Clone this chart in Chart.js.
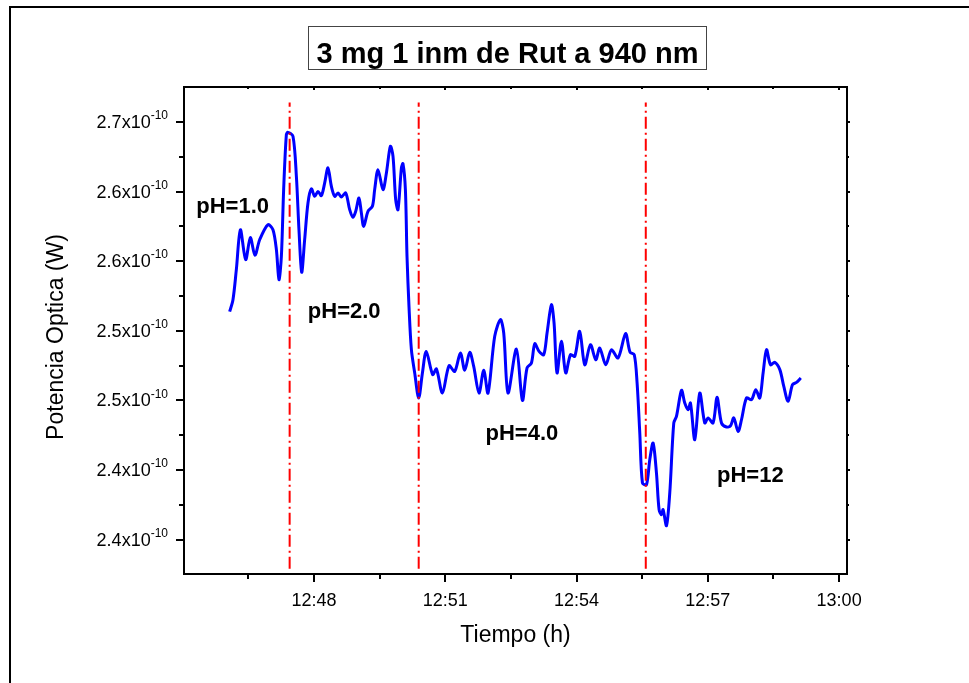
<!DOCTYPE html>
<html>
<head>
<meta charset="utf-8">
<script src="https://cdn.jsdelivr.net/npm/chart.js@4"></script>
<style>
  html, body { margin: 0; padding: 0; background: #fff; }
  canvas { display: block; }
</style>
</head>
<body>
<canvas id="chart" width="969" height="683"></canvas>
<script>
const titleText = '3 mg 1 inm de Rut a 940 nm';
const xAxisTitle = 'Tiempo (h)';
const yAxisTitle = 'Potencia Optica (W)';

// time in minutes after 12:00, optical power in units of 1e-10 W
const timeMin = [
  46.073, 46.149, 46.226, 46.318, 46.439, 46.546, 46.651, 46.759, 46.949, 47.063,
  47.141, 47.200, 47.255, 47.307, 47.369, 47.406, 47.520, 47.598, 47.657, 47.719,
  47.787, 47.863, 47.941, 48.016, 48.091, 48.169, 48.245, 48.320, 48.398, 48.473,
  48.549, 48.626, 48.725, 48.816, 48.891, 48.953, 49.029, 49.083, 49.136, 49.234,
  49.335, 49.387, 49.463, 49.577, 49.655, 49.746, 49.806, 49.867, 49.920, 49.998,
  50.034, 50.089, 50.126, 50.171, 50.226, 50.302, 50.393, 50.478, 50.565, 50.713,
  50.798, 50.935, 51.086, 51.216, 51.346, 51.445, 51.559, 51.650, 51.771, 51.879,
  51.977, 52.130, 52.261, 52.336, 52.434, 52.626, 52.763, 52.869, 52.969, 53.045,
  53.143, 53.250, 53.326, 53.426, 53.486, 53.554, 53.655, 53.753, 53.861, 53.959,
  54.073, 54.187, 54.318, 54.439, 54.530, 54.667, 54.798, 54.949, 55.120, 55.223,
  55.319, 55.383, 55.445, 55.506, 55.598, 55.673, 55.749, 55.826, 55.886, 55.941,
  55.977, 56.055, 56.130, 56.222, 56.283, 56.398, 56.473, 56.549, 56.603, 56.702,
  56.816, 56.930, 57.006, 57.120, 57.211, 57.312, 57.426, 57.518, 57.593, 57.691,
  57.769, 57.883, 57.998, 58.096, 58.187, 58.263, 58.341, 58.432, 58.530, 58.645,
  58.736, 58.834, 58.935, 59.026, 59.125
];
const power = [
  2.5637, 2.5723, 2.5939, 2.6226, 2.6011, 2.6169, 2.6042, 2.6154, 2.6262, 2.6226,
  2.6083, 2.5867, 2.6034, 2.6514, 2.6909, 2.6925, 2.6897, 2.6609, 2.6226, 2.5920,
  2.6154, 2.6418, 2.6519, 2.6466, 2.6501, 2.6471, 2.6562, 2.6670, 2.6537, 2.6466,
  2.6490, 2.6461, 2.6490, 2.6370, 2.6315, 2.6358, 2.6454, 2.6346, 2.6250, 2.6358,
  2.6394, 2.6514, 2.6657, 2.6514, 2.6634, 2.6825, 2.6753, 2.6442, 2.6370, 2.6670,
  2.6700, 2.6514, 2.6034, 2.5675, 2.5364, 2.5197, 2.5017, 2.5197, 2.5352, 2.5185,
  2.5226, 2.5053, 2.5249, 2.5208, 2.5341, 2.5216, 2.5345, 2.5244, 2.5053, 2.5216,
  2.5053, 2.5460, 2.5580, 2.5484, 2.5053, 2.5369, 2.5000, 2.5233, 2.5269, 2.5407,
  2.5352, 2.5328, 2.5484, 2.5687, 2.5556, 2.5197, 2.5424, 2.5197, 2.5328, 2.5316,
  2.5496, 2.5256, 2.5400, 2.5292, 2.5376, 2.5256, 2.5364, 2.5305, 2.5479, 2.5346,
  2.5328, 2.5127, 2.4766, 2.4407, 2.4394, 2.4574, 2.4694, 2.4478, 2.4215, 2.4179,
  2.4215, 2.4100, 2.4335, 2.4838, 2.4885, 2.5072, 2.4981, 2.4933, 2.4981, 2.4718,
  2.5053, 2.4838, 2.4874, 2.4838, 2.5022, 2.4838, 2.4809, 2.4818, 2.4874, 2.4777,
  2.4861, 2.5017, 2.5005, 2.5077, 2.5017, 2.5197, 2.5364, 2.5256, 2.5273, 2.5221,
  2.5100, 2.4993, 2.5113, 2.5129, 2.5161
];

const xRange = [45.03, 60.18];
const yRange = [2.3753, 2.7251];
const xTickValues = [48, 51, 54, 57, 60];
const xTickLabels = ['12:48', '12:51', '12:54', '12:57', '13:00'];
const xMinorTicks = [46.5, 49.5, 52.5, 55.5, 58.5];
const yTickValues = [2.40, 2.45, 2.50, 2.55, 2.60, 2.65, 2.70];
const yTickLabels = ['2.4', '2.4', '2.5', '2.5', '2.6', '2.6', '2.7'];
const yMinorTicks = [2.425, 2.475, 2.525, 2.575, 2.625, 2.675];
const yExponent = '-10';

// moments the pH was changed, and the text notes
const phChangeTimes = [47.444, 50.393, 55.582];
const phMarkerRange = [2.379, 2.714];
const phLabels = ['pH=1.0', 'pH=2.0', 'pH=4.0', 'pH=12'];
const phLabelTimes = [45.31, 47.86, 51.92, 57.21];
const phLabelValues = [2.6392, 2.5632, 2.4762, 2.4459];

const FONT = '"Liberation Sans", Arial, sans-serif';

const datasets = phChangeTimes.map(t => ({
  data: [{ x: t, y: phMarkerRange[0] }, { x: t, y: phMarkerRange[1] }],
  borderColor: '#ff0000',
  borderWidth: 2,
  borderDash: [12, 4, 2, 4],
  pointRadius: 0,
  order: 0,
}));
datasets.push({
  data: timeMin.map((t, i) => ({ x: t, y: power[i] })),
  borderColor: '#0000ff',
  borderWidth: 3,
  pointRadius: 0,
  tension: 0.3,
  order: 1,
});

const decorations = {
  id: 'decorations',
  beforeDraw(chart) {
    const ctx = chart.ctx;
    ctx.save();
    ctx.fillStyle = '#fff';
    ctx.fillRect(0, 0, chart.width, chart.height);
    ctx.restore();
  },
  afterDraw(chart) {
    const { ctx, chartArea: a, scales: { x, y } } = chart;
    ctx.save();
    ctx.strokeStyle = '#000';
    ctx.fillStyle = '#000';

    // page border, only its left and top edges fall inside the picture
    ctx.lineWidth = 2;
    ctx.beginPath();
    ctx.moveTo(10, chart.height + 5);
    ctx.lineTo(10, 7);
    ctx.lineTo(chart.width + 5, 7);
    ctx.stroke();

    // title in a box
    ctx.lineWidth = 1;
    ctx.strokeStyle = '#444';
    ctx.strokeRect(308.5, 26.5, 398, 43);
    ctx.font = 'bold 29px ' + FONT;
    ctx.textAlign = 'center';
    ctx.textBaseline = 'alphabetic';
    ctx.fillText(titleText, 507.5, 63);

    // plot frame
    ctx.strokeStyle = '#000';
    ctx.lineWidth = 2;
    ctx.strokeRect(a.left, a.top, a.right - a.left, a.bottom - a.top);

    // ticks
    ctx.lineWidth = 2;
    ctx.beginPath();
    xTickValues.forEach(v => {
      const px = Math.round(x.getPixelForValue(v));
      ctx.moveTo(px, a.bottom); ctx.lineTo(px, a.bottom + 8);
      ctx.moveTo(px, a.top); ctx.lineTo(px, a.top + 3);
    });
    xMinorTicks.forEach(v => {
      const px = Math.round(x.getPixelForValue(v));
      ctx.moveTo(px, a.bottom); ctx.lineTo(px, a.bottom + 5);
      ctx.moveTo(px, a.top); ctx.lineTo(px, a.top + 2);
    });
    yTickValues.forEach(v => {
      const py = Math.round(y.getPixelForValue(v));
      ctx.moveTo(a.left, py); ctx.lineTo(a.left - 8, py);
      ctx.moveTo(a.right, py); ctx.lineTo(a.right + 3, py);
    });
    yMinorTicks.forEach(v => {
      const py = Math.round(y.getPixelForValue(v));
      ctx.moveTo(a.left, py); ctx.lineTo(a.left - 5, py);
      ctx.moveTo(a.right, py); ctx.lineTo(a.right + 2, py);
    });
    ctx.stroke();

    // x tick labels
    ctx.font = '18px ' + FONT;
    ctx.textAlign = 'center';
    ctx.textBaseline = 'middle';
    xTickValues.forEach((v, i) => {
      ctx.fillText(xTickLabels[i], x.getPixelForValue(v), a.bottom + 27);
    });

    // y tick labels with a raised exponent
    const supRight = a.left - 16;
    yTickValues.forEach((v, i) => {
      const py = y.getPixelForValue(v);
      ctx.font = '12px ' + FONT;
      const supW = ctx.measureText(yExponent).width;
      ctx.textAlign = 'left';
      ctx.fillText(yExponent, supRight - supW, py - 6);
      ctx.font = '18px ' + FONT;
      ctx.textAlign = 'right';
      ctx.fillText(yTickLabels[i] + 'x10', supRight - supW, py + 1);
    });

    // axis titles
    ctx.font = '23px ' + FONT;
    ctx.textAlign = 'center';
    ctx.fillText(xAxisTitle, (a.left + a.right) / 2, 636);
    ctx.save();
    ctx.translate(57, 337);
    ctx.rotate(-Math.PI / 2);
    ctx.fillText(yAxisTitle, 0, 0);
    ctx.restore();

    // pH notes
    ctx.font = 'bold 22px ' + FONT;
    ctx.textAlign = 'left';
    phLabels.forEach((s, i) => {
      ctx.fillText(s, x.getPixelForValue(phLabelTimes[i]), y.getPixelForValue(phLabelValues[i]));
    });
    ctx.restore();
  }
};

new Chart(document.getElementById('chart'), {
  type: 'line',
  data: { datasets },
  options: {
    responsive: false,
    devicePixelRatio: 1,
    animation: false,
    events: [],
    layout: { padding: { left: 184, top: 87, right: 122, bottom: 109 } },
    scales: {
      x: { type: 'linear', min: xRange[0], max: xRange[1], display: false },
      y: { type: 'linear', min: yRange[0], max: yRange[1], display: false },
    },
    plugins: { legend: { display: false }, tooltip: { enabled: false } },
  },
  plugins: [decorations],
});
</script>
</body>
</html>
